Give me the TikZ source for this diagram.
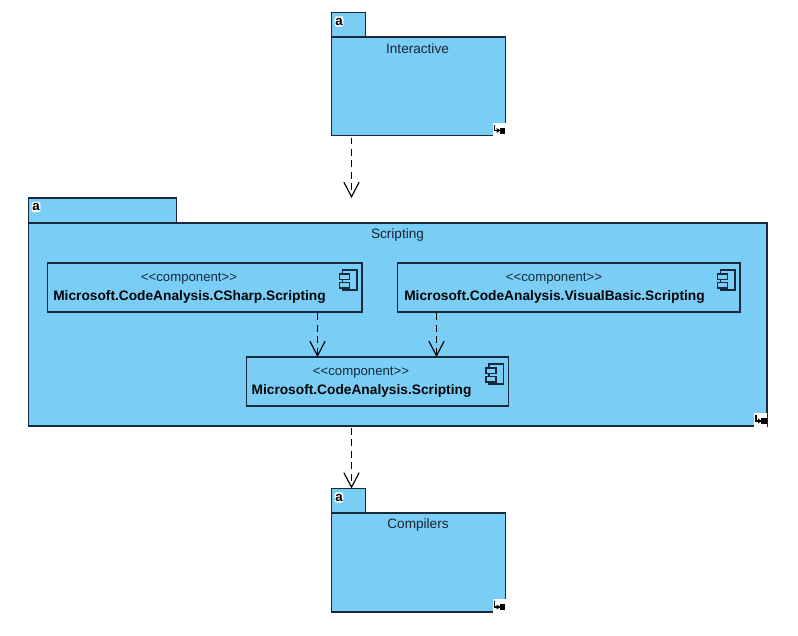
\documentclass[tikz,border=0pt]{standalone}
\usepackage{fontspec}
\setmainfont{Liberation Sans}
\usetikzlibrary{arrows.meta}
\definecolor{pkgfill}{HTML}{7ACEF6}
\definecolor{ink}{HTML}{17293A}
\tikzset{
  x=0.75pt,y=-0.75pt,
  box/.style={draw=ink,fill=pkgfill,line width=0.95pt,inner sep=0pt,outer sep=0pt},
  plabel/.style={font=\fontsize{10.2pt}{12pt}\selectfont,text=ink!90!black,inner sep=0pt},
  stereo/.style={font=\fontsize{9.9pt}{12pt}\selectfont,text=ink,inner sep=0pt},
  cname/.style={font=\bfseries\fontsize{10.3pt}{12pt}\selectfont,text=black!90!ink,inner sep=0pt},
  dep/.style={draw=black,line width=0.95pt,dash pattern=on 5.2pt off 3.4pt,
    -{Straight Barb[length=11pt,width=11.5pt,line width=0.85pt]},shorten >=0pt},
  aicon/.style={fill=white,rounded corners=1pt,inner sep=0pt,minimum width=6.4pt,minimum height=7.6pt,
    font=\bfseries\fontsize{10pt}{10pt}\selectfont,text=black},
  pics/corner/.style={code={
    \fill[white] (-13,-13) rectangle (0,0.5);
    \draw[black,line width=0.8pt] (-11,-11) -- (-11,-5) -- (-5,-5);
    \fill[black] (-9,-7.5) -- (-5,-5) -- (-9,-2.5) -- cycle;
    \fill[black] (-6,-8) rectangle (-0.5,-2);
  }},
  pics/compicon/.style={code={
    \draw[ink,line width=0.85pt] (-19.5,7) rectangle (-5,27);
    \draw[ink,fill=pkgfill,line width=0.85pt] (-22.5,11) rectangle (-12.5,16.5);
    \draw[ink,fill=pkgfill,line width=0.85pt] (-22.5,19.5) rectangle (-12.5,25);
  }},
}
\newcommand{\pkg}[9]{% name, tab l, tab t, tab r, body t, body r, body b, label x, label
  \node[box,anchor=north west,minimum width=#4*0.75pt-#2*0.75pt,minimum height=#5*0.75pt-#3*0.75pt] (#1tab) at (#2,#3) {};
  \node[box,anchor=north west,minimum width=#6*0.75pt-#2*0.75pt,minimum height=#7*0.75pt-#5*0.75pt] (#1) at (#2,#5) {};
  \node[aicon] (#1a) at (#2+7.5,#3+9) {a};
  \node[plabel] (#1name) at (#8,#5+11.5) {#9};
  \pic at (#1.south east) {corner};
}
\newcommand{\comp}[7]{% name, left, top, right, bottom, text x, name text
  \node[box,anchor=north west,minimum width=#4*0.75pt-#2*0.75pt,minimum height=#5*0.75pt-#3*0.75pt] (#1) at (#2,#3) {};
  \node[stereo] (#1st) at (#6-0.5,#3+15.5) {<{}<component>{}>};
  \node[cname] (#1name) at (#6,#3+33.5) {#7};
  \pic at (#1.north east) {compicon};
}
\begin{document}
\begin{tikzpicture}
\useasboundingbox (0,0) rectangle (798,635);
\pkg{interactive}{331.5}{12.5}{365.5}{37}{505.5}{135.5}{417.5}{Interactive}
\pkg{scripting}{28.5}{198}{176.5}{223}{767}{426}{397.5}{Scripting}
\pkg{compilers}{331.5}{488.5}{365.5}{513}{505.5}{612}{418}{Compilers}
\comp{csharp}{47.5}{263}{362}{312}{189.5}{Microsoft.CodeAnalysis.CSharp.Scripting}
\comp{vb}{397.5}{263}{740}{312}{554.5}{Microsoft.CodeAnalysis.VisualBasic.Scripting}
\comp{core}{246.5}{357}{508.5}{406}{361.5}{Microsoft.CodeAnalysis.Scripting}
\coordinate (xa) at (351.5,0);
\coordinate (xb) at (317.5,0);
\coordinate (xc) at (436.5,0);
\draw[dep] ([yshift=-1.5pt]xa |- interactive.south) -- (xa |- scriptingtab.north);
\draw[dep] ([yshift=-1.5pt]xa |- scripting.south) -- (xa |- compilerstab.north);
\draw[dep] ([yshift=-1pt]xb |- csharp.south) -- (xb |- core.north);
\draw[dep] ([yshift=-1pt]xc |- vb.south) -- (xc |- core.north);
\end{tikzpicture}
\end{document}
